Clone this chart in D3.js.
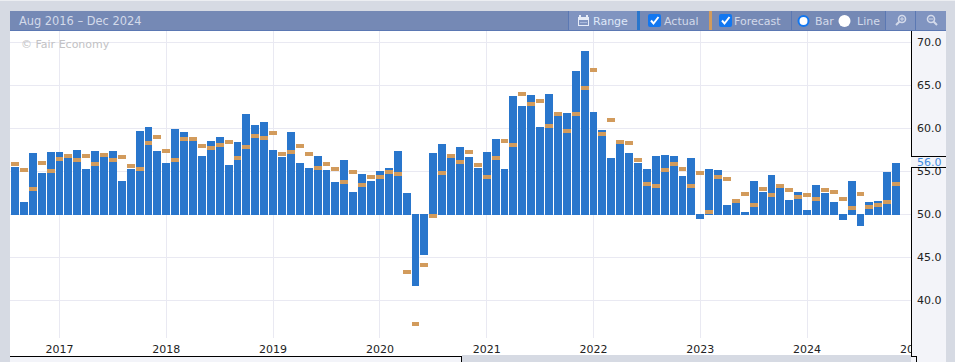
<!DOCTYPE html>
<html>
<head>
<meta charset="utf-8">
<style>
  html, body { margin: 0; padding: 0; background: #d6dae3; overflow: hidden; }
  svg { display: block; font-family: "DejaVu Sans", sans-serif; font-size: 11px; }
  .domain { display: none; }
  .tick line { display: none; }
</style>
<script src="https://cdnjs.cloudflare.com/ajax/libs/d3/7.8.5/d3.min.js"></script>
</head>
<body>
<script>
// monthly values, Aug 2016 to Nov 2024
const actual = [
  55.6, 51.5, 57.2, 54.9, 57.3, 57.3, 56.6, 57.6, 55.3, 57.5,
  56.7, 57.5, 53.9, 55.3, 59.8, 60.2, 57.5, 56.0, 60.0, 59.6,
  58.6, 56.9, 58.6, 59.1, 55.8, 58.5, 61.7, 60.5, 60.8, 57.6,
  56.8, 59.7, 56.1, 55.5, 56.9, 55.2, 53.8, 56.4, 52.7, 54.8,
  54.0, 55.1, 55.5, 57.4, 52.6, 41.7, 45.3, 57.2, 58.2, 56.6,
  57.9, 56.7, 55.5, 57.3, 58.8, 55.3, 63.8, 62.7, 64.0, 60.2,
  64.1, 61.9, 61.9, 66.8, 69.1, 62.0, 59.9, 56.6, 58.2, 57.2,
  56.0, 55.3, 56.9, 57.0, 56.9, 54.5, 56.6, 49.5, 55.3, 55.2,
  51.2, 51.9, 50.3, 53.9, 52.7, 54.6, 53.6, 51.8, 52.7, 50.6,
  53.5, 52.6, 51.5, 49.4, 53.9, 48.7, 51.5, 51.6, 55.0, 56.1
]
const forecast = [
  55.9, 55.2, 53.0, 56.0, 55.1, 56.5, 56.8, 56.3, 56.8, 55.9,
  56.9, 56.3, 56.7, 55.6, 55.3, 58.3, 59.0, 57.4, 56.3, 58.8,
  58.8, 58.0, 57.7, 58.1, 58.4, 56.6, 57.9, 59.1, 58.9, 59.5,
  57.0, 57.3, 58.0, 57.0, 55.4, 55.9, 55.3, 53.8, 54.9, 53.4,
  54.4, 54.4, 54.9, 54.7, 43.3, 37.3, 44.1, 49.8, 54.8, 56.8,
  56.1, 57.3, 55.8, 54.4, 56.6, 58.5, 58.1, 64.0, 62.8, 63.2,
  60.3, 61.7, 59.7, 61.7, 64.7, 66.8, 59.4, 61.0, 58.4, 58.3,
  56.3, 53.6, 53.3, 55.2, 55.9, 55.3, 53.3, 54.8, 50.3, 54.4,
  54.1, 51.6, 52.4, 51.1, 53.0, 52.3, 53.3, 52.9, 52.0, 52.3,
  51.8, 52.9, 52.6, 51.8, 50.8, 52.4, 50.9, 51.1, 51.4, 53.6
]
const yearLabels = ['2017', '2018', '2019', '2020', '2021', '2022', '2023', '2024', '2025']
const yTicks = [40, 45, 50, 55, 60, 65, 70]
const lastLabel = 56.0

const width = 955
const height = 362
const plot = { left: 10, right: 911, top: 31, bottom: 356 }
const panelRight = 946
const barColor = '#2976cc'
const forecastColor = '#d29b5c'
const gridColor = '#e9e9f2'
const headerColor = '#7589b5'
const buttonColor = '#8094c0'
const lineColor = '#5b78b3'
const headerText = '#d3daea'

const fmtMonth = d3.timeFormat('%Y-%m')
// one extra month past the data so the 2025 tick lands under the axis panel
const months = d3.timeMonth.range(new Date(2016, 7, 1), new Date(2025, 1, 1)).map(fmtMonth)

const x = d3.scaleBand()
  .domain(months)
  .range([11, 11 + months.length * 8.9 - 0.89])
  .paddingInner(0.1)
  .paddingOuter(0)

const y = d3.scaleLinear()
  .domain([40, 70])
  .range([300.5, 42.5])

const svg = d3.select('body').append('svg')
  .attr('width', width)
  .attr('height', height)

svg.append('rect').attr('width', width).attr('height', 1).attr('fill', '#eceef2')

// backgrounds
svg.append('rect')
  .attr('x', plot.left).attr('y', plot.top)
  .attr('width', plot.right - plot.left).attr('height', plot.bottom - plot.top)
  .attr('fill', '#fff')
svg.append('rect')
  .attr('x', plot.right).attr('y', plot.top)
  .attr('width', panelRight - plot.right).attr('height', height - plot.top)
  .attr('fill', '#f3f4f9')
svg.append('rect')
  .attr('x', plot.left).attr('y', plot.bottom)
  .attr('width', 451).attr('height', height - plot.bottom)
  .attr('fill', '#f3f4f9')
svg.append('rect')
  .attr('x', 462).attr('y', plot.bottom - 1)
  .attr('width', plot.right - 462).attr('height', height - plot.bottom + 1)
  .attr('fill', '#d6dae3')

svg.append('clipPath').attr('id', 'plot-clip')
  .append('rect')
    .attr('x', plot.left).attr('y', plot.top)
    .attr('width', plot.right - plot.left).attr('height', plot.bottom - plot.top)

const chart = svg.append('g').attr('clip-path', 'url(#plot-clip)')
const xCenter = d => x(d) + x.bandwidth() / 2
const yearMonths = yearLabels.map(d => d + '-01')

// bars sit on whole pixels with a 1px gap, same as the original
const barLeft = i => Math.round(x(months[i]) + 1e-6)
const barWidth = i => barLeft(i + 1) - barLeft(i) - 1

// grid
chart.selectAll('.grid-y')
  .data(yTicks)
  .enter().append('line')
    .attr('x1', plot.left).attr('x2', plot.right)
    .attr('y1', d => y(d)).attr('y2', d => y(d))
    .attr('stroke', gridColor)
chart.selectAll('.grid-x')
  .data(yearMonths)
  .enter().append('line')
    .attr('x1', d => Math.floor(xCenter(d)) + 0.5).attr('x2', d => Math.floor(xCenter(d)) + 0.5)
    .attr('y1', plot.top).attr('y2', 338)
    .attr('stroke', gridColor)

// actual bars
chart.selectAll('.bar')
  .data(actual)
  .enter().append('rect')
    .attr('class', 'bar')
    .attr('x', (d, i) => barLeft(i))
    .attr('width', (d, i) => barWidth(i))
    .attr('y', d => d >= 50 ? Math.round(y(d) + 0.5) : 214)
    .attr('height', d => d >= 50 ? 215 - Math.round(y(d) + 0.5) : Math.round(y(d)) - 214)
    .attr('fill', barColor)

// forecast markers
chart.selectAll('.forecast')
  .data(forecast)
  .enter().append('rect')
    .attr('class', 'forecast')
    .attr('x', (d, i) => barLeft(i))
    .attr('width', (d, i) => barWidth(i))
    .attr('y', d => Math.round(y(d) - 2))
    .attr('height', 4)
    .attr('fill', forecastColor)

chart.append('text')
  .attr('x', 21).attr('y', 48)
  .attr('fill', '#c2c2c4')
  .text('\u00a9 Fair Economy')

// x axis labels, clipped by the plot so 2025 only shows "20"
const xAxis = d3.axisBottom(x)
  .tickValues(yearMonths)
  .tickFormat(d => d.slice(0, 4))
  .tickSize(0)
  .tickPadding(0)
const xg = chart.append('g')
  .attr('transform', 'translate(0,' + 349 + ')')
  .call(xAxis)
xg.selectAll('text')
  .attr('y', 0).attr('dy', '0.32em')
  .attr('fill', '#222')
  .style('font-size', '11px')
  .style('font-family', '"DejaVu Sans", sans-serif')

// y axis
const yAxis = d3.axisRight(y)
  .tickValues(yTicks)
  .tickFormat(d3.format('.1f'))
  .tickSize(0)
  .tickPadding(6)
const yg = svg.append('g')
  .attr('transform', 'translate(' + plot.right + ',0)')
  .call(yAxis)
yg.selectAll('text')
  .attr('dy', '0.27em')
  .attr('fill', '#222')
  .style('font-size', '11px')
  .style('font-family', '"DejaVu Sans", sans-serif')

// frame lines
function rule(x1, y1, x2, y2) {
  svg.append('line')
    .attr('x1', x1).attr('y1', y1).attr('x2', x2).attr('y2', y2)
    .attr('stroke', '#000')
    .attr('shape-rendering', 'crispEdges')
}
rule(plot.right + 0.5, plot.top, plot.right + 0.5, plot.bottom + 1)
rule(plot.left, plot.bottom + 0.5, 462, plot.bottom + 0.5)
rule(461.5, plot.bottom, 461.5, height)
rule(plot.right, plot.bottom + 0.5, 917, plot.bottom + 0.5)
rule(916.5, plot.bottom, 916.5, height)

// last value callout over the axis
svg.append('rect')
  .attr('x', plot.right).attr('y', 156)
  .attr('width', panelRight - plot.right).attr('height', 11)
  .attr('fill', '#f3f4f9')
rule(plot.right, 156.5, panelRight, 156.5)
rule(plot.right, 167.5, panelRight, 167.5)
svg.append('text')
  .attr('x', plot.right + 6).attr('y', 166)
  .attr('fill', '#3f8ae0')
  .text(d3.format('.1f')(lastLabel))

// header bar
const header = svg.append('g')
header.append('rect')
  .attr('x', plot.left).attr('y', 11)
  .attr('width', panelRight - plot.left).attr('height', 20)
  .attr('fill', headerColor)
header.append('rect')
  .attr('x', plot.left).attr('y', 30)
  .attr('width', panelRight - plot.left).attr('height', 1)
  .attr('fill', lineColor)

function addLabel(str, px, color) {
  return header.append('text')
    .attr('x', px).attr('y', 25)
    .attr('fill', color || headerText)
    .text(str)
}
function headerRect(px, w, color) {
  header.append('rect')
    .attr('x', px).attr('y', 11)
    .attr('width', w).attr('height', 19)
    .attr('fill', color)
}

addLabel('Aug 2016 \u2013 Dec 2024', 19).style('font-size', '11.4px')

// range button
headerRect(568, 1, lineColor)
headerRect(569, 68, buttonColor)
headerRect(637, 3, barColor)
const cal = header.append('g').attr('transform', 'translate(578,15)')
cal.append('rect').attr('x', 0.5).attr('y', 2.5).attr('width', 10).attr('height', 8)
  .attr('fill', 'none').attr('stroke', '#e6ecf8')
cal.append('rect').attr('x', 0).attr('y', 2).attr('width', 11).attr('height', 3).attr('fill', '#e6ecf8')
cal.append('rect').attr('x', 1).attr('y', 0).attr('width', 2).attr('height', 2).attr('fill', '#e6ecf8')
cal.append('rect').attr('x', 8).attr('y', 0).attr('width', 2).attr('height', 2).attr('fill', '#e6ecf8')
cal.append('rect').attr('x', 2).attr('y', 7).attr('width', 7).attr('height', 1).attr('fill', '#a9b9dc')
addLabel('Range', 593, '#dfe8f8')

function checkbox(px) {
  header.append('rect')
    .attr('x', px).attr('y', 14)
    .attr('width', 13).attr('height', 13)
    .attr('rx', 2)
    .attr('fill', '#1277f0')
  header.append('path')
    .attr('d', 'M' + (px + 3) + ' 20.5l2.5 3l5 -6.5')
    .attr('fill', 'none')
    .attr('stroke', '#fff')
    .attr('stroke-width', 2)
}

// actual / forecast toggles
checkbox(648)
addLabel('Actual', 664)
headerRect(709, 3, forecastColor)
checkbox(719)
addLabel('Forecast', 734)
headerRect(791, 1, lineColor)

// bar / line radios
header.append('circle').attr('cx', 803.5).attr('cy', 21).attr('r', 5).attr('fill', '#fff')
  .attr('stroke', '#1277f0').attr('stroke-width', 2)
addLabel('Bar', 815)
header.append('circle').attr('cx', 844.5).attr('cy', 21).attr('r', 6).attr('fill', '#fff')
addLabel('Line', 857)

// zoom buttons
headerRect(885, 1, lineColor)
headerRect(886, 60, buttonColor)
headerRect(915, 1, lineColor)
function magnifier(cx, mirror, plus) {
  const g = header.append('g').attr('transform', 'translate(' + cx + ',19) scale(' + mirror + ',1)')
  g.append('circle').attr('r', 3.5).attr('fill', 'none').attr('stroke', '#d3daea').attr('stroke-width', 1.6)
  g.append('line').attr('x1', -2.5).attr('y1', 2.5).attr('x2', -6).attr('y2', 6)
    .attr('stroke', '#d3daea').attr('stroke-width', 2)
  g.append('line').attr('x1', -2).attr('x2', 2).attr('y1', 0).attr('y2', 0).attr('stroke', '#d3daea')
  if (plus) {
    g.append('line').attr('x1', 0).attr('x2', 0).attr('y1', -2).attr('y2', 2).attr('stroke', '#d3daea')
  }
}
magnifier(902, 1, true)
magnifier(931, -1, false)
</script>
</body>
</html>
